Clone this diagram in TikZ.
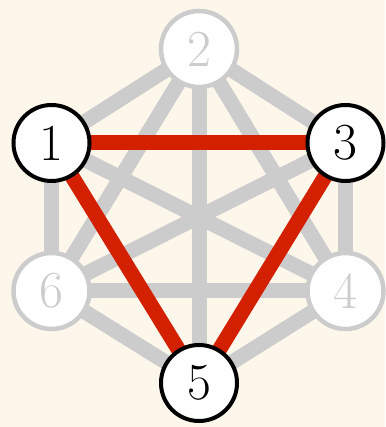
\documentclass[tikz,border=0pt]{standalone}
\usepackage{fontspec}
\definecolor{bgcream}{RGB}{253,247,235}
\definecolor{edgegray}{RGB}{204,204,204}
\definecolor{edgered}{RGB}{210,32,0}
\begin{document}
\begin{tikzpicture}[x=1pt,y=1pt,
  vbase/.style={circle,fill=white,minimum size=76pt,inner sep=0pt,
    font=\fontsize{52}{52}\selectfont},
  von/.style={vbase,draw=black,line width=4pt,text=black},
  voff/.style={vbase,draw=edgegray,line width=4.5pt,text=edgegray},
  gedge/.style={draw=edgegray,line width=15pt},
  redge/.style={draw=edgered,line width=15pt}]
\fill[bgcream] (0,0) rectangle (385,427);
\useasboundingbox (0,0) rectangle (385,427);
\coordinate (p2) at (199,378);
\coordinate (p1) at (51.5,284);
\coordinate (p3) at (345.5,284);
\coordinate (p6) at (51.5,136);
\coordinate (p4) at (345.5,136);
\coordinate (p5) at (199,44);
% gray edges
\foreach \a/\b in {1/2,1/4,1/6,2/3,2/4,2/5,2/6,3/4,3/6,4/5,4/6,5/6}
  \draw[gedge] (p\a) -- (p\b);
% red edges
\draw[redge] (p1) -- (p3);
\draw[redge] (p3) -- (p5);
\draw[redge] (p5) -- (p1);
% nodes
\node[voff] (n2) at (p2) {2};
\node[voff] (n6) at (p6) {6};
\node[voff] (n4) at (p4) {4};
\node[von] (n1) at (p1) {1};
\node[von] (n3) at (p3) {3};
\node[von] (n5) at (p5) {5};
\end{tikzpicture}
\end{document}
